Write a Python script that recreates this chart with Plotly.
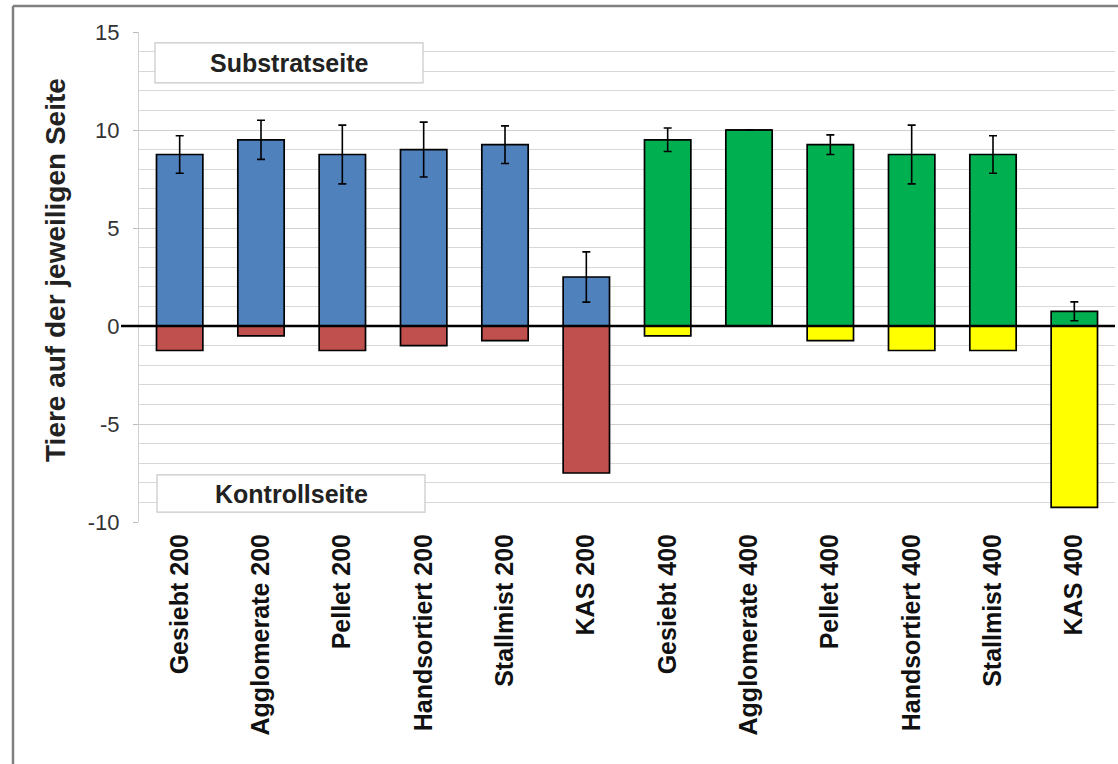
import plotly.graph_objects as go

categories = ["Gesiebt 200", "Agglomerate 200", "Pellet 200", "Handsortiert 200",
              "Stallmist 200", "KAS 200", "Gesiebt 400", "Agglomerate 400",
              "Pellet 400", "Handsortiert 400", "Stallmist 400", "KAS 400"]

# Substratseite (positive), Kontrollseite (negative)
subst_200 = [8.75, 9.5, 8.75, 9.0, 9.25, 2.5, None, None, None, None, None, None]
subst_200_err = [0.96, 1.0, 1.5, 1.4, 0.96, 1.28, None, None, None, None, None, None]
kontr_200 = [-1.25, -0.5, -1.25, -1.0, -0.75, -7.5, None, None, None, None, None, None]

subst_400 = [None, None, None, None, None, None, 9.5, 10.0, 9.25, 8.75, 8.75, 0.75]
subst_400_err = [None, None, None, None, None, None, 0.6, 0.0, 0.5, 1.5, 0.96, 0.48]
kontr_400 = [None, None, None, None, None, None, -0.5, 0.0, -0.75, -1.25, -1.25, -9.25]

y_ticks = [-10, -5, 0, 5, 10, 15]

FONT = "Liberation Sans, Arial, sans-serif"
BW = 0.57
line = dict(color="black", width=1.7)

fig = go.Figure()
fig.add_trace(go.Bar(x=categories, y=subst_200, width=BW, marker=dict(color="#4F81BD", line=line),
                     error_y=dict(type="data", array=subst_200_err, color="black", thickness=1.6, width=4),
                     name="Substratseite 200"))
fig.add_trace(go.Bar(x=categories, y=kontr_200, width=BW, marker=dict(color="#C0504D", line=line),
                     name="Kontrollseite 200"))
fig.add_trace(go.Bar(x=categories, y=subst_400, width=BW, marker=dict(color="#00B050", line=line),
                     error_y=dict(type="data", array=subst_400_err, color="black", thickness=1.6, width=4),
                     name="Substratseite 400"))
fig.add_trace(go.Bar(x=categories, y=kontr_400, width=BW, marker=dict(color="#FFFF00", line=line),
                     name="Kontrollseite 400"))

L, R, T, B = 139, 3, 32, 242
W, H = 1118, 764
pw, ph = W - L - R, H - T - B

def px(xp):
    return (xp - L) / pw

def py(yp):
    return (H - B - yp) / ph

shapes = [
    # zero line
    dict(type="line", xref="paper", yref="y", x0=px(121), x1=1, y0=0, y1=0,
         line=dict(color="black", width=2.5), layer="above"),
    # label boxes
    dict(type="rect", xref="paper", yref="y", x0=px(155), x1=px(423), y0=12.4, y1=14.45,
         fillcolor="white", line=dict(color="#c8c8c8", width=1.2), layer="above"),
    dict(type="rect", xref="paper", yref="y", x0=px(157), x1=px(425), y0=-9.5, y1=-7.6,
         fillcolor="white", line=dict(color="#c8c8c8", width=1.2), layer="above"),
    # outer frame (top and left)
    dict(type="line", xref="paper", yref="paper", x0=px(13), x1=px(1120), y0=py(6), y1=py(6),
         line=dict(color="#808080", width=2.5)),
    dict(type="line", xref="paper", yref="paper", x0=px(13), x1=px(13), y0=py(6), y1=py(770),
         line=dict(color="#808080", width=2.5)),
]

annotations = [
    dict(text="<b>Substratseite</b>", xref="paper", yref="y", x=px(289), y=13.42,
         xanchor="center", yanchor="middle",
         showarrow=False, font=dict(family=FONT, size=25, color="#222")),
    dict(text="<b>Kontrollseite</b>", xref="paper", yref="y", x=px(291), y=-8.55,
         xanchor="center", yanchor="middle",
         showarrow=False, font=dict(family=FONT, size=25, color="#222")),
    dict(text="<b>Tiere auf der jeweiligen Seite</b>", xref="paper", yref="paper",
         x=px(55), y=py(270), xanchor="center", yanchor="middle", textangle=-90, showarrow=False,
         font=dict(family=FONT, size=28, color="#222")),
]

fig.update_layout(
    width=W, height=H,
    margin=dict(l=L, r=R, t=T, b=B, pad=0),
    barmode="relative",
    bargap=0.43,
    showlegend=False,
    plot_bgcolor="white",
    paper_bgcolor="white",
    font=dict(family=FONT, color="#222"),
    shapes=shapes,
    annotations=annotations,
    xaxis=dict(
        type="category",
        tickangle=-90,
        tickfont=dict(family=FONT, size=25, color="#111", weight="bold"),
        showgrid=False,
        showline=False,
        ticks="",
        ticklabelstandoff=6,
    ),
    yaxis=dict(
        range=[-10, 15],
        tickvals=y_ticks,
        ticktext=[str(v) for v in y_ticks],
        tickfont=dict(family=FONT, size=22, color="#333"),
        showgrid=True,
        gridcolor="#cfcfcf",
        gridwidth=1.3,
        minor=dict(dtick=1, showgrid=True, gridcolor="#d8d8d8", gridwidth=1),
        ticks="outside",
        ticklen=5,
        tickcolor="#bbbbbb",
        ticklabelstandoff=9,
        showline=True,
        linecolor="#d0d0d0",
        linewidth=1,
        zeroline=False,
    ),
)

fig.write_html("out.html")
